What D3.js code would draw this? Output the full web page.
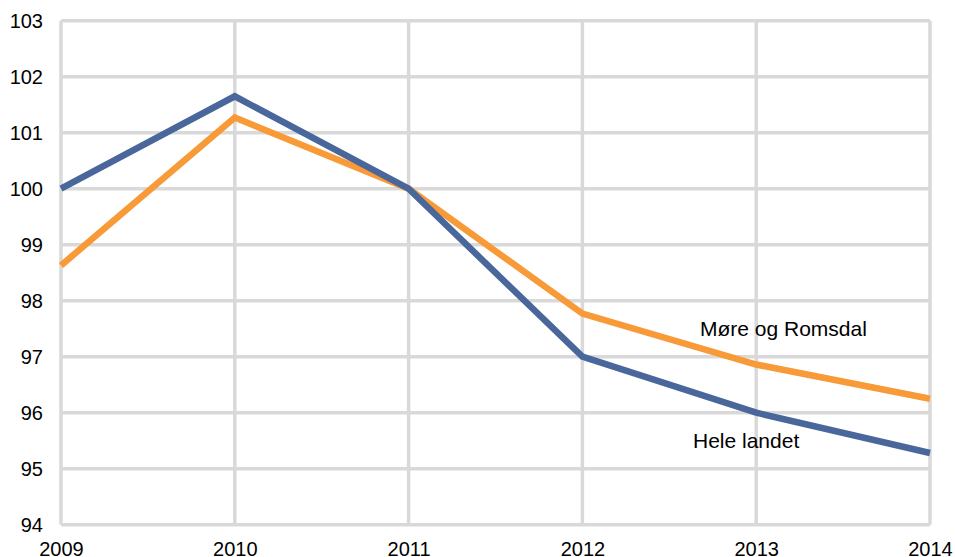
<!DOCTYPE html>
<html>
<head>
<meta charset="utf-8">
<script src="https://cdn.jsdelivr.net/npm/d3@7"></script>
<style>
  body { margin: 0; background: #fff; overflow: hidden; }
  text { font-family: "Liberation Sans", Arial, sans-serif; fill: #000; }
</style>
</head>
<body>
<div id="canvas"></div>
<script>
var years = [2009, 2010, 2011, 2012, 2013, 2014];
var yTicks = [94, 95, 96, 97, 98, 99, 100, 101, 102, 103];
var heleLandet = [100, 101.65, 100, 97.0, 96.0, 95.28];
var moreRomsdal = [98.63, 101.27, 100, 97.77, 96.86, 96.25];
var seriesNames = ["Hele landet", "Møre og Romsdal"];

var width = 955, height = 557;
var plotLeft = 61, plotRight = 930, plotTop = 20.7, plotBottom = 524.7;

var svg = d3.select("#canvas")
  .append("svg")
  .attr("width", width)
  .attr("height", height);

var x = d3.scalePoint().domain(years).range([plotLeft, plotRight]);
var y = d3.scaleLinear().domain([94, 103]).range([plotBottom, plotTop]);

// grid
svg.append("g")
  .selectAll("line")
  .data(yTicks)
  .enter()
    .append("line")
    .attr("x1", plotLeft).attr("x2", plotRight)
    .attr("y1", function(d) { return y(d); })
    .attr("y2", function(d) { return y(d); })
    .attr("stroke", "#d9d9d9")
    .attr("stroke-width", 3.5);

svg.append("g")
  .selectAll("line")
  .data(years)
  .enter()
    .append("line")
    .attr("x1", function(d) { return x(d); })
    .attr("x2", function(d) { return x(d); })
    .attr("y1", plotTop).attr("y2", plotBottom)
    .attr("stroke", "#d9d9d9")
    .attr("stroke-width", 3.5);

// axis labels
var yAxis = d3.axisLeft(y).tickValues(yTicks).tickSize(0).tickPadding(18);
svg.append("g")
  .attr("transform", "translate(" + plotLeft + ",0)")
  .call(yAxis)
  .call(function(g) { g.select(".domain").remove(); })
  .selectAll("text")
    .style("font-size", "20px")
    .style("font-family", "'Liberation Sans', Arial, sans-serif")
    .attr("fill", "#000");

var xAxis = d3.axisBottom(x).tickSize(0).tickPadding(17).tickFormat(d3.format("d"));
svg.append("g")
  .attr("transform", "translate(0," + plotBottom + ")")
  .call(xAxis)
  .call(function(g) { g.select(".domain").remove(); })
  .selectAll("text")
    .style("font-size", "20px")
    .style("font-family", "'Liberation Sans', Arial, sans-serif")
    .attr("fill", "#000");

var line = d3.line()
  .x(function(d, i) { return x(years[i]); })
  .y(function(d) { return y(d); });

svg.append("path")
  .datum(moreRomsdal)
  .attr("d", line)
  .attr("fill", "none")
  .attr("stroke", "#f79a37")
  .attr("stroke-width", 6.5);

svg.append("path")
  .datum(heleLandet)
  .attr("d", line)
  .attr("fill", "none")
  .attr("stroke", "#4a679c")
  .attr("stroke-width", 6.5);

svg.append("text")
  .attr("x", 700).attr("y", 336)
  .style("font-size", "21px")
  .text(seriesNames[1]);

svg.append("text")
  .attr("x", 693).attr("y", 448)
  .style("font-size", "21px")
  .text(seriesNames[0]);
</script>
</body>
</html>
